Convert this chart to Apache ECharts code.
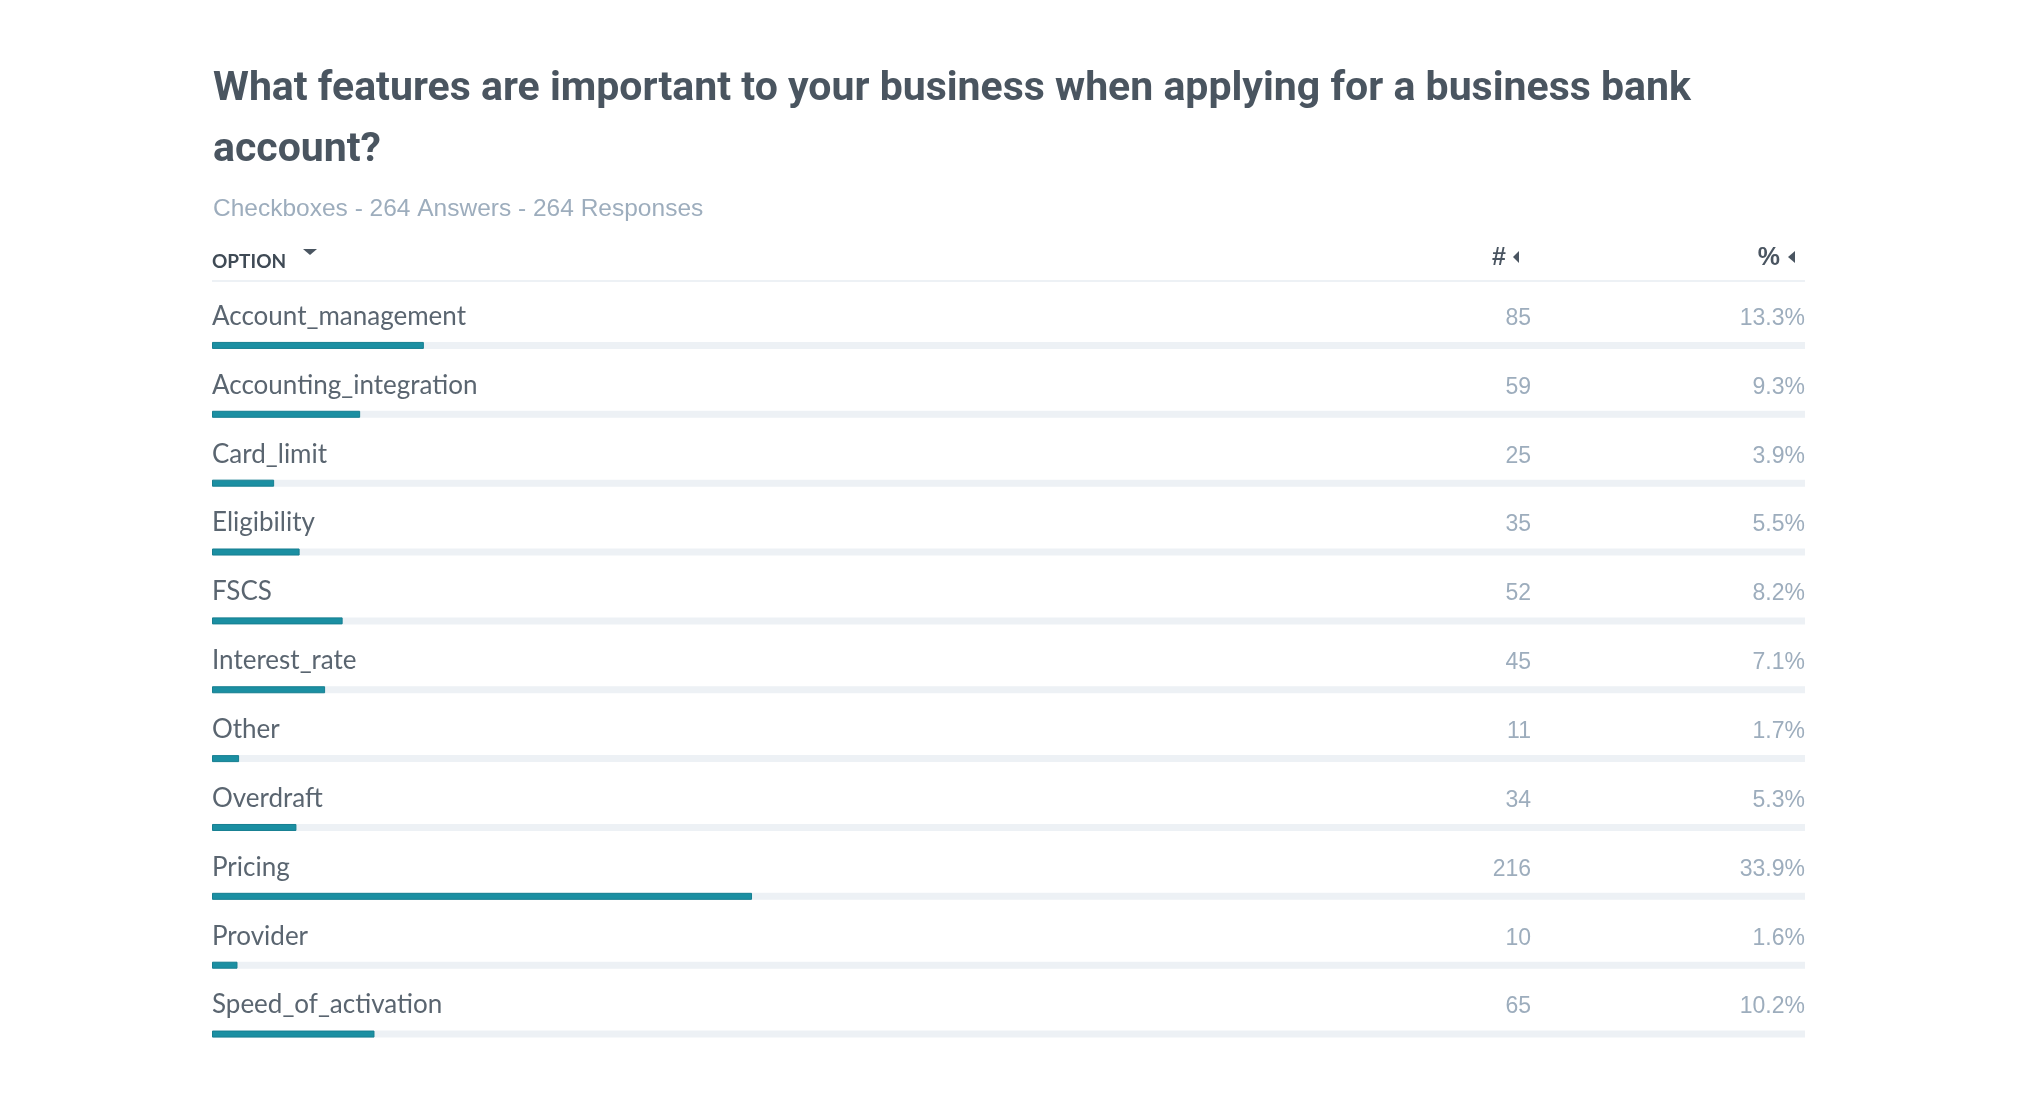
<!DOCTYPE html>
<html>
<head>
<meta charset="utf-8">
<style>
html,body{margin:0;padding:0;background:#fff;}
#chart{width:2040px;height:1110px;}
</style>
<script src="https://cdn.jsdelivr.net/npm/echarts@6/dist/echarts.min.js"></script>
</head>
<body>
<div id="chart"></div>
<script>
const categories = ['Account_management','Accounting_integration','Card_limit','Eligibility','FSCS','Interest_rate','Other','Overdraft','Pricing','Provider','Speed_of_activation'];
const counts = [85, 59, 25, 35, 52, 45, 11, 34, 216, 10, 65];
const percents = [13.3, 9.3, 3.9, 5.5, 8.2, 7.1, 1.7, 5.3, 33.9, 1.6, 10.2];
const titleText = 'What features are important to your business when applying for a business bank\naccount?';
const subtitleText = 'Checkboxes - 264 Answers - 264 Responses';
const headers = ['OPTION', '#', '%'];

const chart = echarts.init(document.getElementById('chart'));
const gridTop = 311, gridH = 757.5, labelLift = 29, numLift = 27;
const hiddenAxis = { axisLine: { show: false }, axisTick: { show: false }, splitLine: { show: false } };
const option = {
  backgroundColor: '#ffffff',
  animation: false,
  title: [
    { text: titleText, left: 208, top: 54,
      textStyle: { fontFamily: 'Roboto', fontWeight: 'bold', fontSize: 41, lineHeight: 61, color: '#4a5560' } },
    { text: subtitleText, left: 208, top: 189,
      textStyle: { fontFamily: 'Liberation Sans', fontWeight: 'normal', fontSize: 24.5, lineHeight: 30, color: '#9dadbd' } }
  ],
  grid: [
    { left: 212, right: 235, top: gridTop, height: gridH },
    { left: 212, right: 235, top: gridTop - labelLift, height: gridH },
    { left: 212, right: 235, top: gridTop - numLift, height: gridH }
  ],
  xAxis: [
    { type: 'value', min: 0, max: 100, show: false, gridIndex: 0 },
    { type: 'value', min: 0, max: 100, show: false, gridIndex: 1 },
    { type: 'value', min: 0, max: 100, show: false, gridIndex: 2 }
  ],
  yAxis: [
    Object.assign({ type: 'category', data: categories, inverse: true, gridIndex: 0, axisLabel: { show: false } }, hiddenAxis),
    Object.assign({ type: 'category', data: categories, inverse: true, position: 'left', gridIndex: 1,
      axisLabel: { inside: true, interval: 0, margin: 0, align: 'left',
        fontFamily: 'Lato', fontSize: 26, color: '#5a6570' } }, hiddenAxis),
    Object.assign({ type: 'category', data: counts.map(String), inverse: true, position: 'right', gridIndex: 2,
      axisLabel: { inside: true, interval: 0, margin: 274, align: 'right',
        fontFamily: 'Liberation Sans', fontSize: 23, color: '#9dadbd' } }, hiddenAxis),
    Object.assign({ type: 'category', data: percents.map(p => p.toFixed(1) + '%'), inverse: true, position: 'right', gridIndex: 2,
      axisLabel: { inside: true, interval: 0, margin: 0, align: 'right',
        fontFamily: 'Liberation Sans', fontSize: 23, color: '#9dadbd' } }, hiddenAxis)
  ],
  series: [{
    type: 'bar', xAxisIndex: 0, yAxisIndex: 0, data: percents, barWidth: 7,
    showBackground: true,
    backgroundStyle: { color: '#edf1f5' },
    itemStyle: { color: '#1b8fa2', borderColor: '#167f91', borderWidth: 1 }
  }],
  graphic: [
    { type: 'text', left: 212, top: 252, style: { text: headers[0], font: 'bold 19px Lato', fill: '#3f4a55' } },
    { type: 'polygon', shape: { points: [[303,249],[317,249],[310,255]] }, style: { fill: '#4a5561' } },
    { type: 'text', right: 2040 - 1506, top: 246, style: { text: headers[1], font: 'bold 25px Liberation Sans', fill: '#4a5561' } },
    { type: 'polygon', shape: { points: [[1519,251],[1519,263],[1513,257]] }, style: { fill: '#4a5561' } },
    { type: 'text', right: 2040 - 1780, top: 246, style: { text: headers[2], font: 'bold 25px Liberation Sans', fill: '#4a5561' } },
    { type: 'polygon', shape: { points: [[1795,251],[1795,263],[1788,257]] }, style: { fill: '#4a5561' } },
    { type: 'line', shape: { x1: 212, y1: 281, x2: 1805, y2: 281 }, style: { stroke: '#edf1f5', lineWidth: 2 } }
  ]
};
chart.setOption(option);
</script>
</body>
</html>
